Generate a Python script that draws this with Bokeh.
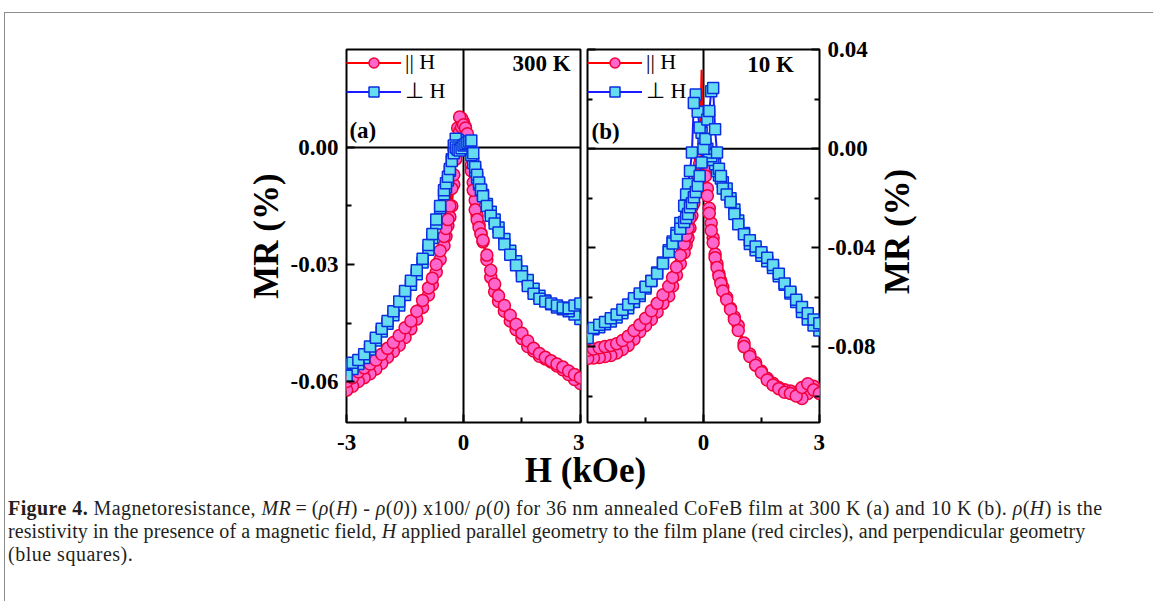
import math
from bokeh.plotting import figure
from bokeh.models import (Range1d, LinearAxis, FixedTicker, NumeralTickFormatter, CustomJSTickFormatter,
                          Span, Label, Legend, LegendItem, ColumnDataSource, CDSView, IndexFilter, Div)
from bokeh.layouts import row, column
from bokeh.embed import file_html
from bokeh.resources import INLINE

# ---------------- data ----------------
# field grid of one sweep, from +3 kOe down to -3 kOe
field_grid = [3.0, 2.85, 2.7, 2.55, 2.4, 2.25, 2.1, 1.95, 1.8, 1.65, 1.5, 1.35, 1.2, 1.05,
              0.9, 0.8, 0.7, 0.6, 0.5,
              0.45, 0.4, 0.35, 0.3, 0.25, 0.2, 0.15, 0.1, 0.05,
              0.0,
              -0.05, -0.1, -0.15, -0.2, -0.25, -0.3, -0.35, -0.4, -0.45,
              -0.5, -0.6, -0.7, -0.8, -0.9,
              -1.05, -1.2, -1.35, -1.5, -1.65, -1.8, -1.95, -2.1, -2.25, -2.4, -2.55, -2.7, -2.85, -3.0]

# (a) 300 K, parallel field (red circles); "dec" = decreasing-field sweep, "inc" = increasing-field sweep
a_par_dec = [-0.0605, -0.0595, -0.0582, -0.0570, -0.0560, -0.0550, -0.0542, -0.0535, -0.0522, -0.0510, -0.0490, -0.0467, -0.0445, -0.0420,
             -0.0395, -0.0370, -0.0333, -0.0288, -0.0242,
             -0.0220, -0.0198, -0.0175, -0.0135, -0.0090, -0.0045, -0.0005, 0.0028, 0.0052,
             0.0065,
             0.0075, 0.0078, 0.0050, -0.0020, -0.0095, -0.0150, -0.0178, -0.0200, -0.0228,
             -0.0252, -0.0287, -0.0320, -0.0352, -0.0378,
             -0.0410, -0.0440, -0.0465, -0.0487, -0.0507, -0.0523, -0.0538, -0.0553, -0.0568, -0.0580, -0.0590, -0.0600, -0.0612, -0.0622]
a_par_inc = [-0.0590, -0.0582, -0.0573, -0.0563, -0.0555, -0.0547, -0.0538, -0.0528, -0.0515, -0.0496, -0.0476, -0.0453, -0.0430, -0.0405,
             -0.0380, -0.0350, -0.0315, -0.0276, -0.0238,
             -0.0222, -0.0205, -0.0185, -0.0160, -0.0110, -0.0060, -0.0010, 0.0035, 0.0050,
             0.0058,
             0.0052, 0.0040, 0.0010, -0.0030, -0.0070, -0.0105, -0.0150, -0.0185, -0.0208,
             -0.0228, -0.0265, -0.0300, -0.0335, -0.0360,
             -0.0392, -0.0420, -0.0445, -0.0462, -0.0482, -0.0500, -0.0515, -0.0530, -0.0545, -0.0555, -0.0565, -0.0575, -0.0590, -0.0600]
# (a) 300 K, perpendicular field (blue squares)
a_perp_dec = [-0.0440, -0.0428, -0.0420, -0.0415, -0.0410, -0.0402, -0.0392, -0.0380, -0.0362, -0.0340, -0.0318, -0.0292, -0.0265, -0.0235,
              -0.0205, -0.0185, -0.0165, -0.0145, -0.0122,
              -0.0110, -0.0095, -0.0078, -0.0060, -0.0040, -0.0020, -0.0005, 0.0005, 0.0008,
              0.0010,
              0.0012, 0.0015, 0.0020, 0.0022, 0.0005, -0.0030, -0.0060, -0.0085, -0.0102,
              -0.0120, -0.0155, -0.0195, -0.0232, -0.0262,
              -0.0295, -0.0325, -0.0352, -0.0378, -0.0405, -0.0430, -0.0452, -0.0472, -0.0495, -0.0518, -0.0540, -0.0555, -0.0568, -0.0585]
a_perp_inc = [-0.0400, -0.0405, -0.0412, -0.0410, -0.0405, -0.0400, -0.0395, -0.0388, -0.0375, -0.0355, -0.0330, -0.0302, -0.0275, -0.0248,
              -0.0218, -0.0195, -0.0175, -0.0150, -0.0125,
              -0.0108, -0.0090, -0.0070, -0.0050, -0.0015, 0.0018, 0.0015, 0.0012, 0.0008,
              0.0005,
              -0.0002, -0.0008, -0.0005, 0.0000, -0.0015, -0.0035, -0.0055, -0.0075, -0.0092,
              -0.0110, -0.0150, -0.0185, -0.0222, -0.0250,
              -0.0285, -0.0315, -0.0342, -0.0368, -0.0395, -0.0420, -0.0445, -0.0465, -0.0488, -0.0510, -0.0530, -0.0545, -0.0552, -0.0555]
# (b) 10 K, parallel field (red circles)
b_par_dec = [-0.0975, -0.0960, -0.0990, -0.1010, -0.0985, -0.0980, -0.0975, -0.0965, -0.0948, -0.0928, -0.0900, -0.0865, -0.0830, -0.0785,
             -0.0715, -0.0680, -0.0645, -0.0600, -0.0560,
             -0.0535, -0.0505, -0.0465, -0.0425, -0.0360, -0.0300, -0.0240, -0.0160, -0.0080,
             -0.0020,
             0.0320, -0.0030, -0.0090, -0.0150, -0.0220, -0.0270, -0.0320, -0.0360, -0.0390,
             -0.0420, -0.0465, -0.0510, -0.0555, -0.0595,
             -0.0625, -0.0660, -0.0690, -0.0715, -0.0740, -0.0770, -0.0795, -0.0812, -0.0826, -0.0836, -0.0840, -0.0844, -0.0846, -0.0848]
b_par_inc = [-0.0990, -0.0975, -0.0950, -0.0965, -0.1000, -0.0990, -0.0985, -0.0970, -0.0955, -0.0935, -0.0905, -0.0875, -0.0840, -0.0800,
             -0.0735, -0.0690, -0.0650, -0.0610, -0.0575,
             -0.0545, -0.0515, -0.0480, -0.0440, -0.0380, -0.0330, -0.0260, -0.0190, -0.0110,
             -0.0050,
             -0.0020, -0.0060, -0.0110, -0.0160, -0.0200, -0.0236, -0.0280, -0.0320, -0.0350,
             -0.0385, -0.0430, -0.0478, -0.0520, -0.0556,
             -0.0590, -0.0625, -0.0655, -0.0685, -0.0712, -0.0735, -0.0758, -0.0775, -0.0788, -0.0795, -0.0800, -0.0805, -0.0810, -0.0815]
# (b) 10 K, perpendicular field (blue squares)
b_perp_dec = [-0.0735, -0.0715, -0.0690, -0.0660, -0.0620, -0.0585, -0.0550, -0.0515, -0.0482, -0.0455, -0.0432, -0.0410, -0.0385, -0.0340,
              -0.0290, -0.0245, -0.0200, -0.0160, -0.0135,
              -0.0120, -0.0108, -0.0090, -0.0062, -0.0045, -0.0030, -0.0015, 0.0000, 0.0020,
              0.0040,
              0.0065, 0.0086, 0.0150, 0.0220, 0.0186, -0.0015, -0.0090, -0.0142, -0.0185,
              -0.0230, -0.0300, -0.0340, -0.0375, -0.0410,
              -0.0460, -0.0500, -0.0535, -0.0565, -0.0595, -0.0620, -0.0645, -0.0665, -0.0682, -0.0698, -0.0710, -0.0722, -0.0730, -0.0735]
b_perp_inc = [-0.0705, -0.0690, -0.0665, -0.0640, -0.0610, -0.0578, -0.0545, -0.0505, -0.0470, -0.0440, -0.0418, -0.0395, -0.0370, -0.0345,
              -0.0305, -0.0263, -0.0215, -0.0185, -0.0160,
              -0.0110, -0.0080, -0.0015, 0.0079, 0.0246, 0.0233, 0.0153, 0.0119, 0.0040,
              0.0000,
              -0.0055, -0.0110, -0.0149, -0.0175, -0.0196, -0.0220, -0.0236, -0.0263, -0.0280,
              -0.0296, -0.0323, -0.0350, -0.0383, -0.0417,
              -0.0464, -0.0504, -0.0535, -0.0558, -0.0585, -0.0604, -0.0630, -0.0651, -0.0670, -0.0685, -0.0700, -0.0712, -0.0725, -0.0765]

x_ticks = [-3, 0, 3]
x_minor = [-1.5, 1.5]
a_y_ticks = [-0.06, -0.03, 0.0]
a_y_minor = [-0.045, -0.015]
b_y_ticks = [-0.08, -0.04, 0.0, 0.04]
b_y_minor = [-0.10, -0.06, -0.02, 0.02]
legend_labels = ["|| H", "\u22a5 H"]
panel_tags = ["(a)", "(b)"]
temps = ["300 K", "10 K"]
y_title = "MR (%)"
x_title = "H (kOe)"

SERIF = "Liberation Serif"
RED_LINE, RED_EDGE, RED_FILL = "#ff0000", "#f2003a", "#ff66cc"
BLUE_LINE, BLUE_EDGE, BLUE_FILL = "#1a1aff", "#0a2ee0", "#66dcef"
TICK_FONT = "23px"
TITLE_FONT = "35px"


def loop(dec, inc):
    """One full loop: decreasing-field sweep, then increasing-field sweep."""
    return ColumnDataSource(dict(h=field_grid + field_grid[::-1], mr=dec + inc[::-1]))


def style_axis(ax):
    ax.axis_line_color = None
    ax.major_tick_in = 8
    ax.major_tick_out = 0
    ax.minor_tick_in = 5
    ax.minor_tick_out = 0
    ax.major_tick_line_width = 2
    ax.minor_tick_line_width = 2
    ax.major_tick_line_color = "black"
    ax.minor_tick_line_color = "black"
    ax.major_label_text_font = SERIF
    ax.major_label_text_font_style = "bold"
    ax.major_label_text_font_size = TICK_FONT
    ax.major_label_text_color = "black"
    ax.axis_label_text_font = SERIF
    ax.axis_label_text_font_style = "bold"
    ax.axis_label_text_font_size = TITLE_FONT
    ax.axis_label_text_color = "black"


def make_panel(width, bl, br, yr, src_par, src_perp, hide_idx, tag, tag_xy, temp, temp_xy):
    p = figure(width=width, height=449, x_range=Range1d(-3.004, 3.004), y_range=Range1d(*yr),
               x_axis_type=None, y_axis_type=None, toolbar_location=None, output_backend="svg",
               min_border_left=bl, min_border_right=br, min_border_top=36, min_border_bottom=40)
    p.outline_line_color = "black"
    p.outline_line_width = 2
    p.add_layout(Span(location=0, dimension="height", line_color="black", line_width=2, level="underlay"))
    p.add_layout(Span(location=0, dimension="width", line_color="black", line_width=2, level="underlay"))

    n = len(src_par.data["h"])
    view = CDSView(filter=IndexFilter([i for i in range(n) if i not in hide_idx]))
    rl = p.line("h", "mr", source=src_par, line_color=RED_LINE, line_width=2)
    rs = p.scatter("h", "mr", source=src_par, view=view, marker="circle", size=12,
                   fill_color=RED_FILL, line_color=RED_EDGE, line_width=1.5)
    bln = p.line("h", "mr", source=src_perp, line_color=BLUE_LINE, line_width=2)
    bs = p.scatter("h", "mr", source=src_perp, marker="square", size=11,
                   fill_color=BLUE_FILL, line_color=BLUE_EDGE, line_width=1.5)

    leg = Legend(items=[LegendItem(label=legend_labels[0], renderers=[rl, rs]),
                        LegendItem(label=legend_labels[1], renderers=[bln, bs])],
                 location="top_left", glyph_width=55, glyph_height=25, label_height=25,
                 label_standoff=4, spacing=3, padding=0, margin=0,
                 border_line_color=None, background_fill_alpha=0,
                 label_text_font=SERIF, label_text_font_size="22px", label_text_color="black")
    p.add_layout(leg)

    p.add_layout(Label(x=tag_xy[0], y=tag_xy[1], text=tag, text_font=SERIF, text_font_style="bold",
                       text_font_size="23px", text_color="black", text_baseline="middle", text_align="left"))
    p.add_layout(Label(x=temp_xy[0], y=temp_xy[1], text=temp, text_font=SERIF, text_font_style="bold",
                       text_font_size="23px", text_color="black", text_baseline="middle", text_align="right"))
    return p


# ---------------- panel (a) ----------------
src_a_par = loop(a_par_dec, a_par_inc)
src_a_perp = loop(a_perp_dec, a_perp_inc)
pa = make_panel(576, 338, 4, (-0.0705, 0.0251), src_a_par, src_a_perp, [],
                panel_tags[0], (-2.93, 0.0043), temps[0], (2.75, 0.0215))
xa = LinearAxis(ticker=FixedTicker(ticks=x_ticks, minor_ticks=x_minor), formatter=NumeralTickFormatter(format="0"))
style_axis(xa)
xa.major_label_standoff = 12
pa.add_layout(xa, "below")
ya = LinearAxis(ticker=FixedTicker(ticks=a_y_ticks, minor_ticks=a_y_minor), formatter=NumeralTickFormatter(format="0.00"),
                axis_label=y_title)
style_axis(ya)
ya.major_label_standoff = 8
ya.axis_label_standoff = 2
pa.add_layout(ya, "left")

# ---------------- panel (b) ----------------
src_b_par = loop(b_par_dec, b_par_inc)
src_b_perp = loop(b_perp_dec, b_perp_inc)
spike = [29]  # top of the narrow spike of the parallel curve is drawn as line only
pb = make_panel(294, 3, 57, (-0.1107, 0.0402), src_b_par, src_b_perp, spike,
                panel_tags[1], (-2.9, 0.007), temps[1], (2.34, 0.034))
xb = LinearAxis(ticker=FixedTicker(ticks=[t for t in x_ticks if t > -3], minor_ticks=x_minor),
                formatter=NumeralTickFormatter(format="0"))
style_axis(xb)
xb.major_label_standoff = 12
pb.add_layout(xb, "below")
yb = LinearAxis(ticker=FixedTicker(ticks=b_y_ticks, minor_ticks=b_y_minor), formatter=NumeralTickFormatter(format="0.00"))
style_axis(yb)
yb.major_label_standoff = 8
pb.add_layout(yb, "right")
yb_mirror = LinearAxis(ticker=FixedTicker(ticks=b_y_ticks, minor_ticks=b_y_minor),
                       formatter=CustomJSTickFormatter(code="return ''"))
style_axis(yb_mirror)
yb_mirror.major_label_standoff = 0
pb.add_layout(yb_mirror, "left")

# ---------------- right-hand axis title (reads bottom to top, like the left one) ----------------
pr = figure(width=274, height=449, x_range=Range1d(0, 274), y_range=Range1d(0, 449),
            x_axis_type=None, y_axis_type=None, toolbar_location=None, output_backend="svg",
            min_border=0)
pr.outline_line_color = None
pr.add_layout(Label(x=19, y=230, text=y_title, angle=math.pi / 2, text_font=SERIF,
                    text_font_style="bold", text_font_size=TITLE_FONT, text_color="black",
                    text_align="center", text_baseline="middle"))

# ---------------- shared x title ----------------
px = figure(width=1144, height=46, x_range=Range1d(0, 1144), y_range=Range1d(0, 46),
            x_axis_type=None, y_axis_type=None, toolbar_location=None, output_backend="svg",
            min_border=0, styles={"margin-top": "-17px"})
px.outline_line_color = None
px.background_fill_alpha = 0
px.border_fill_alpha = 0
px.add_layout(Label(x=577, y=21, text=x_title, text_font=SERIF, text_font_style="bold",
                    text_font_size=TITLE_FONT, text_color="black", text_align="center", text_baseline="middle"))

# ---------------- caption ----------------
caption_html = (
    '<div style="font-family: \'Liberation Serif\', serif; font-size: 20px; line-height: 23px; '
    'color: #231f20; white-space: nowrap; padding-top: 1px; margin-left: -5px;">'
    '<span style="letter-spacing: 0.42px;"><b>Figure 4.</b> Magnetoresistance, <i>MR</i>&#8201;=&#8201;(<i>&rho;</i>(<i>H</i>) - '
    '<i>&rho;</i>(<i>0</i>)) x100/ <i>&rho;</i>(<i>0</i>) for 36 nm annealed CoFeB film at 300 K (a) and 10 K (b). '
    '<i>&rho;</i>(<i>H</i>) is the</span><br>'
    '<span style="letter-spacing: 0.09px;">resistivity in the presence of a magnetic field, <i>H</i> applied parallel '
    'geometry to the film plane (red circles), and perpendicular geometry</span><br>'
    '<span style="letter-spacing: 0.5px;">(blue squares).</span></div>'
)
cap = Div(text=caption_html, width=1140, height=109)

layout = column(row(pa, pb, pr), px, cap,
                styles={"border-top": "1px solid #8c8c8c", "border-left": "1px solid #8c8c8c",
                        "margin-left": "4px", "margin-top": "12px", "padding-left": "3px"})

open("out.html", "w").write(file_html(layout, INLINE))
